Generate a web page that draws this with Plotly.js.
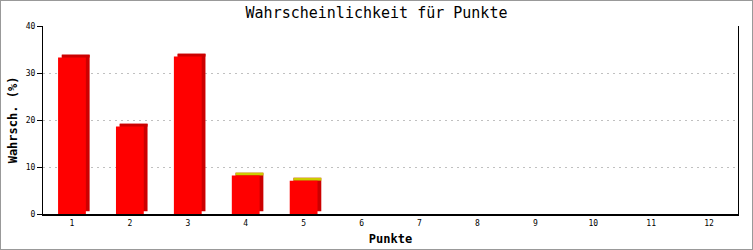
<!DOCTYPE html>
<html><head><meta charset="utf-8">
<script src="https://cdn.plot.ly/plotly-3.0.1.min.js"></script>
<style>
html,body{margin:0;padding:0;background:#fff;}
#chart{width:751px;height:248px;border:1px solid #999;}
</style></head>
<body><div id="chart"></div>
<script>
const categories = ["1","2","3","4","5","6","7","8","9","10","11","12"];
const values = [33.3, 18.6, 33.5, 8.2, 7.1, 0, 0, 0, 0, 0, 0, 0];
const topColors = ["#cc0000","#cc0000","#cc0000","#cccc00","#cccc00","#cc0000","#cc0000","#cc0000","#cc0000","#cc0000","#cc0000","#cc0000"];
const chartTitle = "Wahrscheinlichkeit für Punkte";
const xTitle = "Punkte";
const yTitle = "Wahrsch. (%)";

const W = 0.48, DX = 0.065, DY = 0.6;
const mono = "DejaVu Sans Mono, monospace";

const sideTrace = {type:"bar", x:categories, y:values, base:values.map(v=>v>0?DY:0),
  width:W, offset:-W/2+DX, marker:{color:"#cc0000", line:{width:0}}, hoverinfo:"skip"};
const topTrace = {type:"bar", x:categories, y:values.map(v=>v>0?DY:0), base:values,
  width:W, offset:-W/2+DX, marker:{color:topColors, line:{width:0}}, hoverinfo:"skip"};
const frontTrace = {type:"bar", x:categories, y:values,
  width:W, offset:-W/2, marker:{color:"#ff0000", line:{width:0}}};

const layout = {
  width:751, height:248, barmode:"overlay", showlegend:false,
  margin:{l:42, r:14, t:25, b:35},
  paper_bgcolor:"#fff", plot_bgcolor:"#fff",
  title:{text:chartTitle, x:0.5, xanchor:"center", y:1-12/248, yanchor:"middle",
    font:{family:mono, size:15, color:"#000"}},
  xaxis:{type:"category", range:[-0.5,11.5], showline:true, linecolor:"#000", linewidth:2,
    ticks:"", showgrid:false, zeroline:false, tickfont:{family:mono, size:8, color:"#000"},
    title:{text:xTitle, font:{family:mono, size:12, color:"#000", weight:"bold"}, standoff:8}},
  yaxis:{range:[0,40], tickvals:[0,10,20,30,40], showline:true, mirror:true, linecolor:"#000", linewidth:1,
    ticks:"outside", ticklen:5, tickcolor:"#000", tickwidth:1, zeroline:false,
    showgrid:true, gridcolor:"#c0c0c0", griddash:"2px,4px", gridwidth:1,
    tickfont:{family:mono, size:8, color:"#000"},
    title:{text:yTitle, font:{family:mono, size:12, color:"#000", weight:"bold"}, standoff:5}}
};
Plotly.newPlot("chart", [sideTrace, topTrace, frontTrace], layout, {staticPlot:true, displayModeBar:false});
</script></body></html>
